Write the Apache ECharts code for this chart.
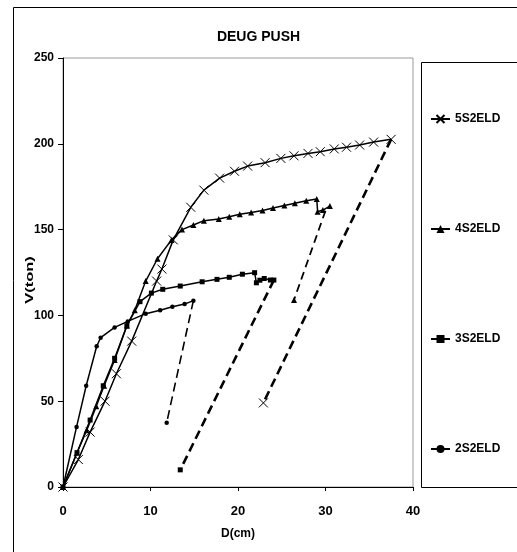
<!DOCTYPE html>
<html><head><meta charset="utf-8">
<script src="https://cdn.jsdelivr.net/npm/echarts@6/dist/echarts.min.js"></script>
<style>html,body{margin:0;padding:0;background:#fff}#c{width:517px;height:552px}</style>
</head><body><div id="c"></div>
<script>
// Data (D in cm, V in ton)
var s5_D = [0,1.75,3.1,4.8,6.1,7.85,10.7,11.3,12.6,14.6,16.1,17.9,19.6,21.1,23.1,24.9,26.4,28.0,29.4,31.0,32.4,33.9,35.5,37.5];
var s5_V = [0,16,32,50,66,85,120,127,144,163,173,180,184,187,189,191.5,193,194.4,195.4,197,198,199.3,201,202.6];
var s5_unload_D = [37.5,22.9];
var s5_unload_V = [202.6,49];

var s4_D = [0,1.6,2.7,3.8,4.7,5.9,7.3,8.2,9.45,10.8,12.4,13.6,14.9,16.1,17.8,19.0,20.2,21.5,22.8,24.0,25.3,26.5,27.8,29.0,29.1,29.7,30.5];
var s4_V = [0,20,33,47,59,74,94,103,120,133,144,150,152.7,155.2,156.2,157.5,158.9,159.9,161.1,162.6,164.1,165.3,166.8,167.8,160.4,161.4,163.7];
var s4_unload_D = [30.0,26.4];
var s4_unload_V = [161,109];

var s3_D = [0,1.6,3.1,4.6,5.9,7.3,8.8,10.1,11.4,13.4,15.9,17.6,19.0,20.5,21.9,22.1,22.5,23.0,23.7,24.1];
var s3_V = [0,20,39,59,75,94,108,113,115.2,117.1,119.6,121,122.2,124,124.9,119,120.5,121.5,120.6,120.6];
var s3_unload_D = [24.1,13.4];
var s3_unload_V = [120.6,10];

var s2_D = [0,1.55,2.65,3.85,4.3,5.9,7.4,9.45,11.1,12.5,13.9,14.9];
var s2_V = [0,35,59,82,87,93,96.5,101,103,105,106.6,108.6];
var s2_unload_D = [14.9,11.85];
var s2_unload_V = [108.6,37.5];

var names = ['5S2ELD','4S2ELD','3S2ELD','2S2ELD'];
var xTicks = [0,10,20,30,40];
var yTicks = [0,50,100,150,200,250];

function pts(D,V){return D.map(function(d,i){return [d,V[i]];});}
var FONT = "'Liberation Sans', Arial, sans-serif";
var XSYM = 'path://M0,0L10,10M10,0L0,10';

var defs = [
  {name:names[0], D:s5_D, V:s5_V, uD:s5_unload_D, uV:s5_unload_V, sym:XSYM, size:9, stroke:true, dashW:2.6, dash:[9,5]},
  {name:names[1], D:s4_D, V:s4_V, uD:s4_unload_D, uV:s4_unload_V, sym:'triangle', size:6, stroke:false, dashW:1.8, dash:[8,5]},
  {name:names[2], D:s3_D, V:s3_V, uD:s3_unload_D, uV:s3_unload_V, sym:'rect', size:5, stroke:false, dashW:2.6, dash:[9,5]},
  {name:names[3], D:s2_D, V:s2_V, uD:s2_unload_D, uV:s2_unload_V, sym:'circle', size:4.5, stroke:false, dashW:1.6, dash:[9,5]}
];

var series = [];
defs.forEach(function(d){
  var itemStyle = d.stroke ? {color:'#000', borderColor:'#000', borderWidth:1} : {color:'#000', borderWidth:0};
  series.push({
    name:d.name, type:'line', data:pts(d.D,d.V), symbol:d.sym, symbolSize:d.size, showAllSymbol:true,
    lineStyle:{color:'#000', width:1.5}, itemStyle:itemStyle, animation:false, z:3
  });
  var u = pts(d.uD,d.uV);
  series.push({
    name:d.name+'_u', type:'line',
    data:[{value:u[0], symbolSize:0}, {value:u[1]}],
    symbol:d.sym, symbolSize:d.size, showAllSymbol:true,
    lineStyle:{color:'#000', width:d.dashW, type:d.dash}, itemStyle:itemStyle, animation:false, z:2
  });
});

var chart = echarts.init(document.getElementById('c'), null, {renderer:'canvas'});
chart.setOption({
  backgroundColor:'#fff',
  animation:false,
  title:{text:'DEUG PUSH', left:'center', top:25,
    textStyle:{fontFamily:FONT, fontSize:14, fontWeight:'bold', color:'#000'}},
  grid:{left:63, top:58, width:350, height:429, show:true, borderColor:'#999', borderWidth:1, backgroundColor:'transparent'},
  xAxis:{type:'value', min:0, max:40, interval:10,
    name:'D(cm)', nameLocation:'middle', nameGap:41,
    nameTextStyle:{fontFamily:FONT, fontSize:12, fontWeight:'bold', color:'#000'},
    axisLine:{show:true, onZero:false, lineStyle:{color:'#000', width:1}},
    axisTick:{show:true, inside:false, length:4, lineStyle:{color:'#000'}},
    axisLabel:{margin:18, fontFamily:FONT, fontSize:13, fontWeight:'bold', color:'#000',
      formatter:function(v){return xTicks.indexOf(v)>=0? String(v):'';}},
    splitLine:{show:false}},
  yAxis:{type:'value', min:0, max:250, interval:50,
    axisLine:{show:true, onZero:false, lineStyle:{color:'#000', width:1}},
    axisTick:{show:true, inside:false, length:5, lineStyle:{color:'#000'}},
    axisLabel:{margin:9, fontFamily:FONT, fontSize:12, fontWeight:'bold', color:'#000',
      formatter:function(v){return yTicks.indexOf(v)>=0? String(v):'';}},
    splitLine:{show:false}},
  legend:{data:names, orient:'vertical', left:430, top:113, padding:0, itemGap:98, itemWidth:19, itemHeight:10,
    textStyle:{fontFamily:FONT, fontSize:12, fontWeight:'bold', color:'#000'}, selectedMode:false},
  graphic:[
    {type:'rect', shape:{x:13.5, y:7.5, width:520, height:560}, style:{fill:'none', stroke:'#000', lineWidth:1}, silent:true, z:-1},
    {type:'rect', shape:{x:421.5, y:62.5, width:110, height:425}, style:{fill:'none', stroke:'#000', lineWidth:1}, silent:true, z:-1},
    {type:'text', x:30, y:280, rotation:Math.PI/2, scaleX:1.5, silent:true,
      style:{text:'V(ton)', font:"bold 11px 'Liberation Sans', Arial, sans-serif", fill:'#000',
        textAlign:'center', textVerticalAlign:'middle', verticalAlign:'middle'}}
  ],
  series:series
});
</script>
</body></html>
